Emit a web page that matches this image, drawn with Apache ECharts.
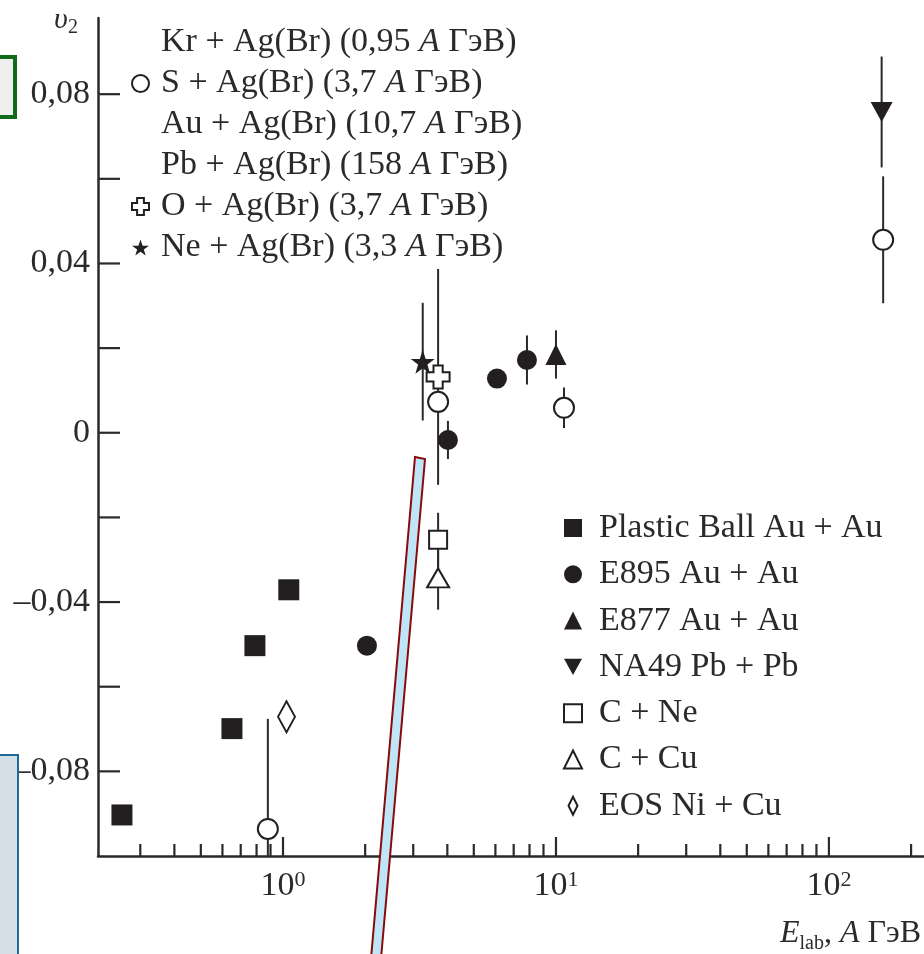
<!DOCTYPE html>
<html><head><meta charset="utf-8">
<script src="https://cdn.jsdelivr.net/npm/echarts@6/dist/echarts.min.js"></script>
<style>html,body{margin:0;padding:0;background:#fff}#c{width:924px;height:954px}</style>
</head><body><div id="c"></div>
<script>
const FONT = '"Liberation Serif", "Times New Roman", serif';
const INK = '#2a2a2a';
const FS = 34;

// ---- data: [E_lab (A GeV), v2, error] ----
const plasticBall = [[0.257,-0.0903,0],[0.650,-0.0699,0],[0.789,-0.0503,0],[1.05,-0.0371,0]];
const e895 = [[2.03,-0.0503,0],[4.02,-0.0017,0.0045],[6.08,0.0128,0],[7.83,0.0172,0.0058]];
const e877 = [[10.0,0.0185,0.0057]];
const na49 = [[156,0.0758,0.0131]];
const cNe = [[3.7,-0.0253,0.0064]];
const cCu = [[3.7,-0.0343,0.0075]];
const eosNiCu = [[1.03,-0.0671,0]];
const krAg = [[0.88,-0.0936,0.026]];
const sAg = [[3.7,0.0073,0]];
const auAg = [[10.7,0.0059,0.0048]];
const pbAg = [[158,0.0456,0.0150]];
const oAg = [[3.7,0.0132,0.0255]];
const neAg = [[3.25,0.0168,0.0139]];

// ---- axis ticks ----
const xMajorTicks = [1,10,100];
const xMinorTicks = [0.3,0.4,0.5,0.6,0.7,0.8,0.9,2,3,4,5,6,7,8,9,20,30,40,50,60,70,80,90,200];
const yTicks = [-0.08,-0.06,-0.04,-0.02,0,0.02,0.04,0.06,0.08];
const X_MIN = 0.21, X_MAX = 223, Y_MIN = -0.1, Y_MAX = 0.098;

// ---- series names ----
const N_KR = 'Kr + Ag(Br) (0,95 A ГэВ)';
const N_S  = 'S + Ag(Br) (3,7 A ГэВ)';
const N_AU = 'Au + Ag(Br) (10,7 A ГэВ)';
const N_PB = 'Pb + Ag(Br) (158 A ГэВ)';
const N_O  = 'O + Ag(Br) (3,7 A ГэВ)';
const N_NE = 'Ne + Ag(Br) (3,3 A ГэВ)';
const N_PL = 'Plastic Ball Au + Au';
const N_E895 = 'E895 Au + Au';
const N_E877 = 'E877 Au + Au';
const N_NA49 = 'NA49 Pb + Pb';
const N_CNE = 'C + Ne';
const N_CCU = 'C + Cu';
const N_EOS = 'EOS Ni + Cu';

const STAR = 'path://M50,0 L61.8,35.1 L98.1,35.1 L68.8,56.7 L79.4,91 L50,70 L20.6,91 L31.2,56.7 L1.9,35.1 L38.2,35.1 Z';
const CROSS = 'path://M3,0 H7 V3 H10 V7 H7 V10 H3 V7 H0 V3 H3 Z';
const DOWNTRI = 'path://M0,0 L10,0 L5,9 Z';
const DIAMOND = 'path://M5,0 L10,10 L5,20 L0,10 Z';

const filled = {color: '#231f20', opacity: 1};
const open = {color: '#ffffff', borderColor: '#231f20', borderWidth: 2, opacity: 1};

function scatter(name, data, symbol, size, style) {
  return {type: 'scatter', name, data, symbol, symbolSize: size, itemStyle: style, z: 5,
    encode: {x: 0, y: 1}, emphasis: {disabled: true}};
}
function errSeries(name, data) {
  return {type: 'custom', name: name + ' (err)', data: data.filter(d => d[2] > 0), clip: true, z: 2, silent: true,
    encode: {x: 0, y: 1},
    renderItem(params, api) {
      const x = api.value(0), y = api.value(1), e = api.value(2);
      const p1 = api.coord([x, y + e]), p2 = api.coord([x, y - e]);
      return {type: 'line', shape: {x1: p1[0], y1: p1[1], x2: p2[0], y2: p2[1]},
        style: {stroke: INK, lineWidth: 2}};
    }};
}
function tickSeries(vals, horiz, len) {
  return {type: 'custom', data: vals.map(v => horiz ? [X_MIN, v] : [v, Y_MIN]), z: 3, silent: true,
    encode: {x: 0, y: 1},
    renderItem(params, api) {
      const p = api.coord([api.value(0), api.value(1)]);
      const shape = horiz ? {x1: p[0], y1: p[1], x2: p[0] + len, y2: p[1]}
                          : {x1: p[0], y1: p[1], x2: p[0], y2: p[1] - len};
      return {type: 'line', shape, style: {stroke: INK, lineWidth: 2.2}};
    }};
}

const richText = {
  n: {fontFamily: FONT, fontSize: FS, color: INK},
  i: {fontFamily: FONT, fontSize: FS, color: INK, fontStyle: 'italic'}
};
function legendFmt(name) {
  const parts = name.split(' A ГэВ');
  if (parts.length === 2) return '{n|' + parts[0] + ' }{i|A}{n| ГэВ' + parts[1] + '}';
  return '{n|' + name + '}';
}

const series = [
  errSeries(N_KR, krAg), errSeries(N_S, sAg), errSeries(N_AU, auAg), errSeries(N_PB, pbAg),
  errSeries(N_O, oAg), errSeries(N_NE, neAg),
  errSeries(N_E895, e895), errSeries(N_E877, e877), errSeries(N_NA49, na49),
  errSeries(N_CNE, cNe), errSeries(N_CCU, cCu),
  tickSeries(xMinorTicks, false, 12), tickSeries(xMajorTicks, false, 19), tickSeries(yTicks, true, 22),
  scatter(N_PL, plasticBall, 'rect', 21, filled),
  scatter(N_E895, e895, 'circle', 20, filled),
  scatter(N_E877, e877, 'triangle', 21, filled),
  scatter(N_NA49, na49, DOWNTRI, [22, 20], filled),
  scatter(N_CNE, cNe, 'rect', 18, open),
  scatter(N_CCU, cCu, 'triangle', [22, 19], open),
  scatter(N_EOS, eosNiCu, DIAMOND, [17, 31], open),
  scatter(N_KR, krAg, 'circle', 20, open),
  scatter(N_S, sAg, 'circle', 20, open),
  scatter(N_AU, auAg, 'circle', 20, open),
  scatter(N_PB, pbAg, 'circle', 20, open),
  scatter(N_O, oAg, CROSS, 23, open),
  scatter(N_NE, neAg, STAR, 24, filled)
];

const chart = echarts.init(document.getElementById('c'), null, {renderer: 'canvas'});
chart.setOption({
  animation: false,
  backgroundColor: '#ffffff',
  grid: {left: 98, right: 0, top: 18, bottom: 98, containLabel: false, outerBoundsMode: 'none'},
  xAxis: {
    type: 'log', logBase: 10, min: X_MIN, max: X_MAX,
    axisLine: {onZero: false, lineStyle: {color: INK, width: 2.5}},
    axisTick: {show: false}, splitLine: {show: false}, minorTick: {show: false},
    axisLabel: {
      margin: 13, hideOverlap: false, showMinLabel: true, showMaxLabel: true,
      formatter(v) {
        const l = Math.log10(v), r = Math.round(l);
        if (Math.abs(l - r) > 1e-6) return '';
        return '{b|10}{s|' + r + '}';
      },
      rich: {
        b: {fontFamily: FONT, fontSize: FS, color: INK, verticalAlign: 'top', lineHeight: 36},
        s: {fontFamily: FONT, fontSize: 22, color: INK, verticalAlign: 'top', lineHeight: 36, padding: [0, 0, 12, 0]}
      }
    }
  },
  yAxis: {
    type: 'value', min: Y_MIN, max: Y_MAX, interval: 0.02,
    axisLine: {onZero: false, lineStyle: {color: INK, width: 2.5}},
    axisTick: {show: false}, splitLine: {show: false},
    axisLabel: {
      margin: 8, fontFamily: FONT, fontSize: FS, color: INK, hideOverlap: false,
      formatter(v) {
        const k = Math.round(v * 100);
        if (Math.abs(v * 100 - k) > 1e-6 || k % 4 !== 0) return '';
        if (k === 0) return '0';
        const s = (Math.abs(k) / 100).toFixed(2).replace('.', ',');
        return (k < 0 ? '\u2013' : '') + s;
      }
    }
  },
  legend: [
    {
      orient: 'vertical', left: 131, top: 22, padding: 0, itemWidth: 17, itemHeight: 17, itemGap: 0,
      selectedMode: false, symbolKeepAspect: true,
      data: [
        {name: N_KR, itemStyle: {opacity: 0}}, {name: N_S}, {name: N_AU, itemStyle: {opacity: 0}},
        {name: N_PB, itemStyle: {opacity: 0}}, {name: N_O}, {name: N_NE}
      ],
      formatter: legendFmt,
      textStyle: {fontFamily: FONT, fontSize: FS, color: INK, lineHeight: 41, padding: [0, 0, 0, 7],
        rich: {n: Object.assign({lineHeight: 41}, richText.n), i: Object.assign({lineHeight: 41}, richText.i)}}
    },
    {
      orient: 'vertical', left: 563, top: 505, padding: 0, itemWidth: 18, itemHeight: 18, itemGap: 0.3,
      selectedMode: false, symbolKeepAspect: true,
      data: [
        {name: N_PL}, {name: N_E895}, {name: N_E877}, {name: N_NA49},
        {name: N_CNE}, {name: N_CCU}, {name: N_EOS}
      ],
      formatter: legendFmt,
      textStyle: {fontFamily: FONT, fontSize: FS, color: INK, lineHeight: 46, padding: [0, 0, 0, 12],
        rich: {n: Object.assign({lineHeight: 46}, richText.n)}}
    }
  ],
  graphic: [
    {type: 'text', x: 54, y: 5, z: 50, style: {text: 'υ', font: 'italic 30px ' + FONT, fill: INK}},
    {type: 'text', x: 68, y: 18, z: 50, style: {text: '2', font: '20px ' + FONT, fill: INK}},
    {type: 'text', x: 921, y: 918, z: 50, style: {
      text: '{e|E}{sub|lab}{n|, }{i|A}{n| ГэВ}', align: 'right', verticalAlign: 'top',
      rich: {
        e: {fontFamily: FONT, fontSize: 32, fontStyle: 'italic', fill: INK, color: INK, verticalAlign: 'top', lineHeight: 34},
        sub: {fontFamily: FONT, fontSize: 20, fill: INK, color: INK, verticalAlign: 'top', lineHeight: 34, padding: [16, 0, 0, 0]},
        n: {fontFamily: FONT, fontSize: 32, fill: INK, color: INK, verticalAlign: 'top', lineHeight: 34},
        i: {fontFamily: FONT, fontSize: 32, fontStyle: 'italic', fill: INK, color: INK, verticalAlign: 'top', lineHeight: 34}
      }}},
    {type: 'rect', z: 100, shape: {x: -10, y: 57, width: 25, height: 60},
      style: {fill: '#efefef', stroke: '#11691a', lineWidth: 4}},
    {type: 'rect', z: 100, shape: {x: -10, y: 755, width: 28, height: 220},
      style: {fill: '#d5dfe7', stroke: '#1f6a9a', lineWidth: 2}},
    {type: 'polygon', z: 100, shape: {points: [[415, 457], [425, 459], [380, 970], [370, 970]]},
      style: {fill: '#bfe6f8', stroke: '#8a0a0a', lineWidth: 2}}
  ],
  series
});
</script>
</body></html>
